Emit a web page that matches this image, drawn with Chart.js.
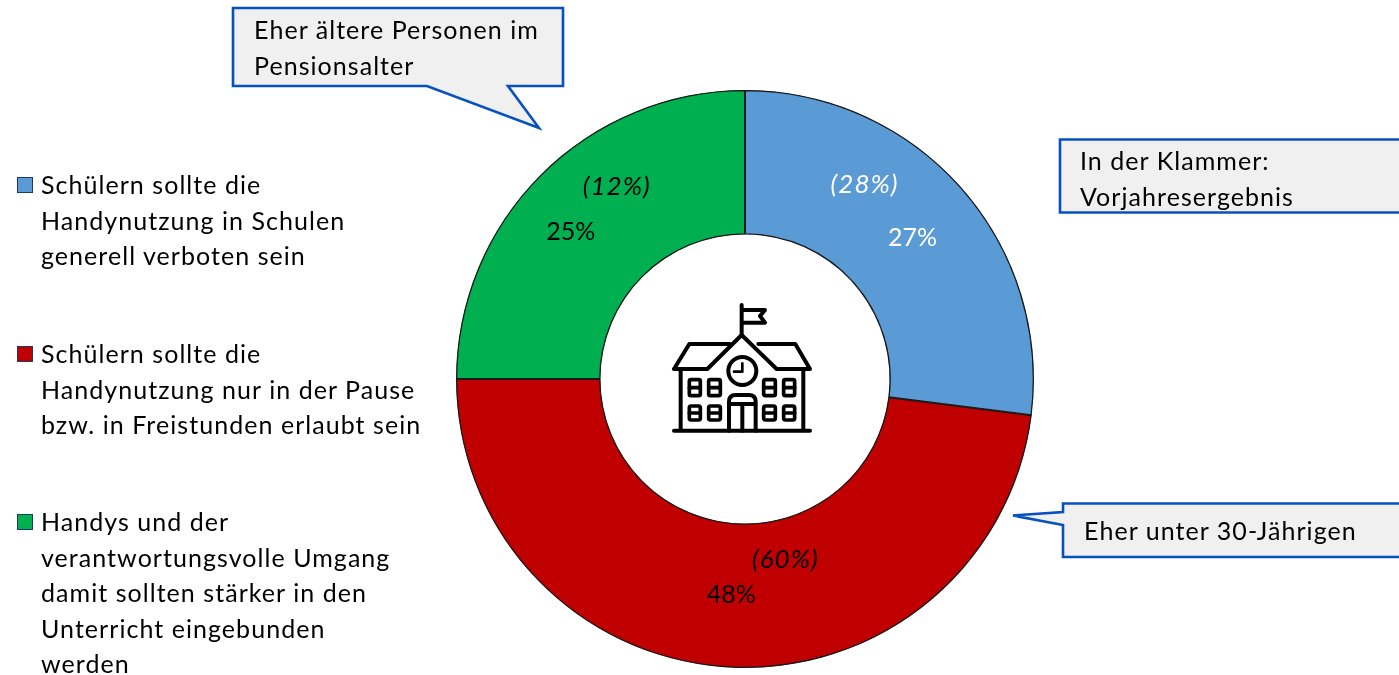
<!DOCTYPE html>
<html lang="de">
<head>
<meta charset="utf-8">
<title>Handynutzung in Schulen</title>
<script src="https://cdn.jsdelivr.net/npm/chart.js@4"></script>
<style>
html,body{margin:0;padding:0;background:#fff;width:1399px;height:675px;overflow:hidden;font-family:Lato,"Open Sans",sans-serif;color:#000}
#wrap{position:absolute;left:0;top:0;width:1399px;height:675px}
canvas{position:absolute;left:0;top:0}
svg{position:absolute;left:0;top:0;pointer-events:none}
.t{position:absolute;font-size:25px;letter-spacing:1.05px;line-height:35.6px;white-space:nowrap}
.m{position:absolute;width:14px;height:14px;border:1px solid #1f3a5f}
</style>
</head>
<body>
<div id="wrap">
<canvas id="c" width="1399" height="675"></canvas>
<svg width="1399" height="675" viewBox="0 0 1399 675">
  <g fill="#f0f0f0" stroke="#0650c0" stroke-width="2.6" stroke-linejoin="miter">
    <path d="M233 8H563V86H508L539 128L427 86H233Z"/>
    <path d="M1402 503.500H1063V512L1013 515.500L1063 525V557H1402Z"/>
    <path d="M1402 139.500H1060V212.500H1402Z"/>
  </g>
  <g transform="translate(650 290) scale(.3333)" fill="none" stroke="#000" stroke-width="12" stroke-linecap="round" stroke-linejoin="round">
    <path d="M72 422H480M92 237V422M460 237V422"/>
    <path d="M240 162H118L72 237H172L275 135L380 237H480L436 162H325"/>
    <path d="M275 45V135M275 60H345L330 78L345 98H275"/>
    <circle cx="277" cy="243" r="42"/>
    <path d="M252 245H277V220" stroke-width="8"/>
    <path d="M237 422V335Q237 315 257 315H297Q317 315 317 335V422M237 342H317M277 342V422"/>
    <g stroke-width="11">
      <rect x="118" y="269" width="33" height="48" rx="5"/><rect x="176" y="269" width="35" height="48" rx="5"/>
      <rect x="341" y="269" width="35" height="48" rx="5"/><rect x="401" y="269" width="33" height="48" rx="5"/>
      <rect x="118" y="348" width="33" height="42" rx="5"/><rect x="176" y="348" width="35" height="42" rx="5"/>
      <rect x="341" y="348" width="35" height="42" rx="5"/><rect x="401" y="348" width="33" height="42" rx="5"/>
      <path d="M118 293H151M176 293H211M341 293H376M401 293H434M118 369H151M176 369H211M341 369H376M401 369H434"/>
    </g>
  </g>
</svg>
<div id="legend"></div>
<div class="t" style="left:254px;top:12px">Eher ältere Personen im<br>Pensionsalter</div>
<div class="t" style="left:1080px;top:143px">In der Klammer:<br>Vorjahresergebnis</div>
<div class="t" style="left:1084px;top:513px">Eher unter 30-Jährigen</div>
</div>
<script>
const categoryLines = [
  ["Schülern sollte die","Handynutzung in Schulen","generell verboten sein"],
  ["Schülern sollte die","Handynutzung nur in der Pause","bzw. in Freistunden erlaubt sein"],
  ["Handys und der","verantwortungsvolle Umgang","damit sollten stärker in den","Unterricht eingebunden","werden"]
];
const currentValues = [27, 48, 25];
const previousValues = [28, 60, 12];
const sliceColors = ["#5b9bd5", "#c00000", "#00b050"];
const labelColors = ["#ffffff", "#000000", "#000000"];

// placement of the printed labels relative to each slice's centre point
const currentOffset = [[5, 2], [0, 0], [-21, 6]];
const previousOffset = [[-43, -51], [54, -36], [25, -39]];
const legendTops = [167, 336, 504];
const FONT = 'Lato, "Open Sans", sans-serif';

const legend = document.getElementById('legend');
categoryLines.forEach((lines, i) => {
  const m = document.createElement('div');
  m.className = 'm';
  m.style.cssText = `left:17px;top:${legendTops[i] + 10}px;background:${sliceColors[i]}`;
  legend.appendChild(m);
  const t = document.createElement('div');
  t.className = 't';
  t.style.cssText = `left:41px;top:${legendTops[i]}px`;
  t.innerHTML = lines.join('<br>');
  legend.appendChild(t);
});

const sliceLabels = {
  id: 'sliceLabels',
  afterDatasetsDraw(chart) {
    const ctx = chart.ctx;
    ctx.save();
    ctx.textAlign = 'center';
    ctx.textBaseline = 'middle';
    chart.getDatasetMeta(0).data.forEach((arc, i) => {
      const p = arc.getCenterPoint();
      ctx.fillStyle = labelColors[i];
      ctx.font = `25px ${FONT}`;
      ctx.letterSpacing = '0px';
      ctx.fillText(currentValues[i] + '%', p.x + currentOffset[i][0], p.y + currentOffset[i][1]);
      ctx.font = `italic 26px ${FONT}`;
      ctx.letterSpacing = '1px';
      ctx.fillText('(' + previousValues[i] + '%)', p.x + previousOffset[i][0], p.y + previousOffset[i][1]);
    });
    ctx.restore();
  }
};

new Chart(document.getElementById('c'), {
  type: 'doughnut',
  data: {
    labels: categoryLines.map(l => l.join(' ')),
    datasets: [{
      data: currentValues,
      backgroundColor: sliceColors,
      borderColor: '#1a1a1a',
      borderWidth: 1,
      borderAlign: 'inner'
    }]
  },
  options: {
    responsive: false,
    animation: false,
    cutout: '50%',
    layout: { padding: { left: 456, right: 365, top: 90, bottom: 7 } },
    plugins: { legend: { display: false }, tooltip: { enabled: false } }
  },
  plugins: [sliceLabels]
});
</script>
</body>
</html>
